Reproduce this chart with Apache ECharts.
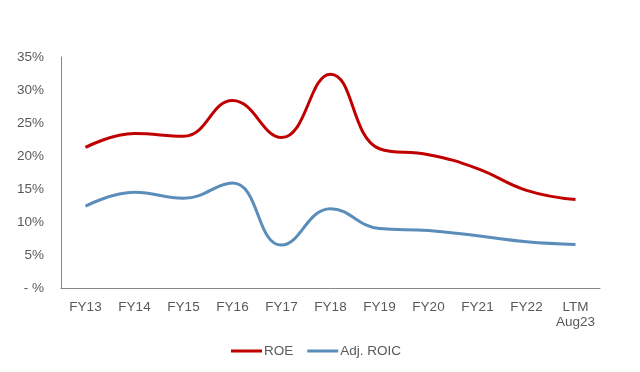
<!DOCTYPE html>
<html><head><meta charset="utf-8">
<script src="https://cdn.jsdelivr.net/npm/echarts@6/dist/echarts.min.js"></script>
<style>html,body{margin:0;padding:0;background:#fff}#c{width:640px;height:372px}</style>
</head><body><div id="c"></div>
<script>
const categories = ['FY13','FY14','FY15','FY16','FY17','FY18','FY19','FY20','FY21','FY22','LTM\nAug23'];
const roe = [21.3, 23.4, 23.0, 28.4, 22.8, 32.4, 21.1, 20.2, 18.1, 14.8, 13.4];
const adjRoic = [12.4, 14.5, 13.6, 15.9, 6.5, 12.0, 9.0, 8.7, 7.9, 7.0, 6.6];
const yTickLabels = ['- %','5%','10%','15%','20%','25%','30%','35%'];

const chart = echarts.init(document.getElementById('c'));
const font = 'Liberation Sans, Arial, sans-serif';
chart.setOption({
  animation: false,
  grid: {left: 61, right: 40, top: 57, bottom: 84},
  legend: {
    top: 339, left: 226, itemWidth: 31, itemHeight: 3, itemGap: 14,
    icon: 'rect',
    textStyle: {color: '#595959', fontSize: 13.5, fontFamily: font, padding: [0,0,0,-3]},
    data: ['ROE','Adj. ROIC']
  },
  xAxis: {
    type: 'category', data: categories, boundaryGap: true,
    axisLine: {lineStyle: {color: '#868686', width: 1}},
    axisTick: {show: false},
    axisLabel: {color: '#595959', fontSize: 13.5, fontFamily: font, margin: 12, interval: 0, lineHeight: 15}
  },
  yAxis: {
    type: 'value', min: 0, max: 35, interval: 5,
    axisLine: {show: true, lineStyle: {color: '#868686', width: 1}},
    axisTick: {show: false},
    splitLine: {show: false},
    axisLabel: {color: '#595959', fontSize: 13.5, fontFamily: font, margin: 17,
      formatter: v => yTickLabels[Math.round(v/5)]}
  },
  series: [
    {name: 'ROE', type: 'line', data: roe, smooth: 0.45, showSymbol: false,
     lineStyle: {color: '#C00000', width: 3}, itemStyle: {color: '#C00000'}},
    {name: 'Adj. ROIC', type: 'line', data: adjRoic, smooth: 0.45, showSymbol: false,
     lineStyle: {color: '#5B8DBB', width: 3}, itemStyle: {color: '#5B8DBB'}}
  ]
});
</script></body></html>
